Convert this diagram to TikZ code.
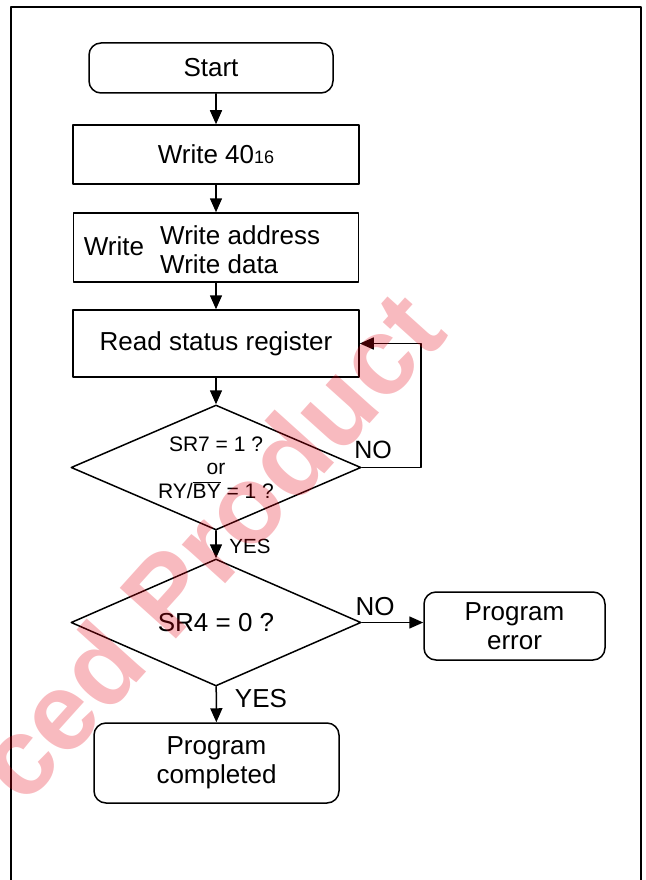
\documentclass[tikz,border=0pt]{standalone}
\usepackage{fontspec}
\setmainfont{Liberation Sans}
\usetikzlibrary{shapes.geometric,arrows.meta}
\definecolor{filigrane}{RGB}{230,0,18}

\begin{document}
\begin{tikzpicture}[line cap=round,line join=round,x=1pt,y=-1pt,
	boite/.style={draw,line width=1.5pt,inner sep=0pt,font=\fontsize{26}{29}\selectfont},
	arrondi/.style={boite,rounded corners=12pt},
	losange/.style={boite,diamond,aspect=2.32},
	fleche/.style={line width=1.5pt,-{Triangle[length=14pt,width=12pt]}},
	etiq/.style={inner sep=0pt,font=\fontsize{26}{29}\selectfont}]
			\useasboundingbox (0,0) rectangle (645,880);
			% Cadre
			\draw[line width=2.4pt] (11,900)--(11,7)--(641,7)--(641,900);
			% Etage 1
			\node[arrondi,minimum width=244pt,minimum height=50pt] (debut) at (211,68) {Start};
			\node[boite,minimum width=286pt,minimum height=59pt] (ecr40) at (216,154.5)
			 {Write 40{\fontsize{18}{18}\selectfont 16}};
			\draw[fleche] (debut.south -| ecr40)--(ecr40);
			% Etage 2
			\node[boite,minimum width=285pt,minimum height=69pt] (ecr) at (216,247.5) {};
			\node[etiq] (ecrg) at (114,246) {Write};
			\node[etiq,anchor=west,align=left] (ecrd) at (160,250) {Write address\\Write data};
			\draw[fleche] (ecr40)--(ecr);
			% Etage 3
			\node[boite,minimum width=286pt,minimum height=67pt] (lsr) at (216,343.5) {Read status register};
			\draw[fleche] (ecr)--(lsr);
			% Test 1
			\node[losange,minimum width=290pt,minimum height=125pt,align=center,
			 font=\fontsize{21}{23.5}\selectfont] (t1) at (216,467.5)
			 {SR7 = 1 ?\\or\\RY/$\overline{\mbox{BY}}$ = 1 ?};
			\draw[fleche] (lsr)--(t1);
			\draw[fleche] (t1.east)--++(59,0)|-(lsr.east);
			\node[etiq,font=\fontsize{25}{25}\selectfont] (non1) at (373,450) {NO};
			% Test 2
			\node[losange,minimum width=290pt,minimum height=127pt] (t2) at (216,622.5) {SR4 = 0 ?};
			\draw[fleche] (t1)--(t2);
			\node[etiq,font=\fontsize{20.5}{20.5}\selectfont] (oui1) at (250,546) {YES};
			\node[arrondi,minimum width=181pt,minimum height=68pt,align=center] (err) at (514.5,626) {Program\\error};
			\draw[fleche] (t2.east)--(t2.east -| err.west);
			\node[etiq] (non2) at (375,607) {NO};
			% Fin
			\node[arrondi,minimum width=245pt,minimum height=80pt,align=center] (fin) at (216.5,763) {Program\\completed};
			\draw[fleche] (t2)--(fin);
			\node[etiq] (oui2) at (261,699) {YES};
			% Filigrane
			\node[text=filigrane,opacity=0.27,rotate=48,font=\bfseries\fontsize{110}{110}\selectfont]
			 (filig) at (208,545) {ced Product};
\end{tikzpicture}
\end{document}
